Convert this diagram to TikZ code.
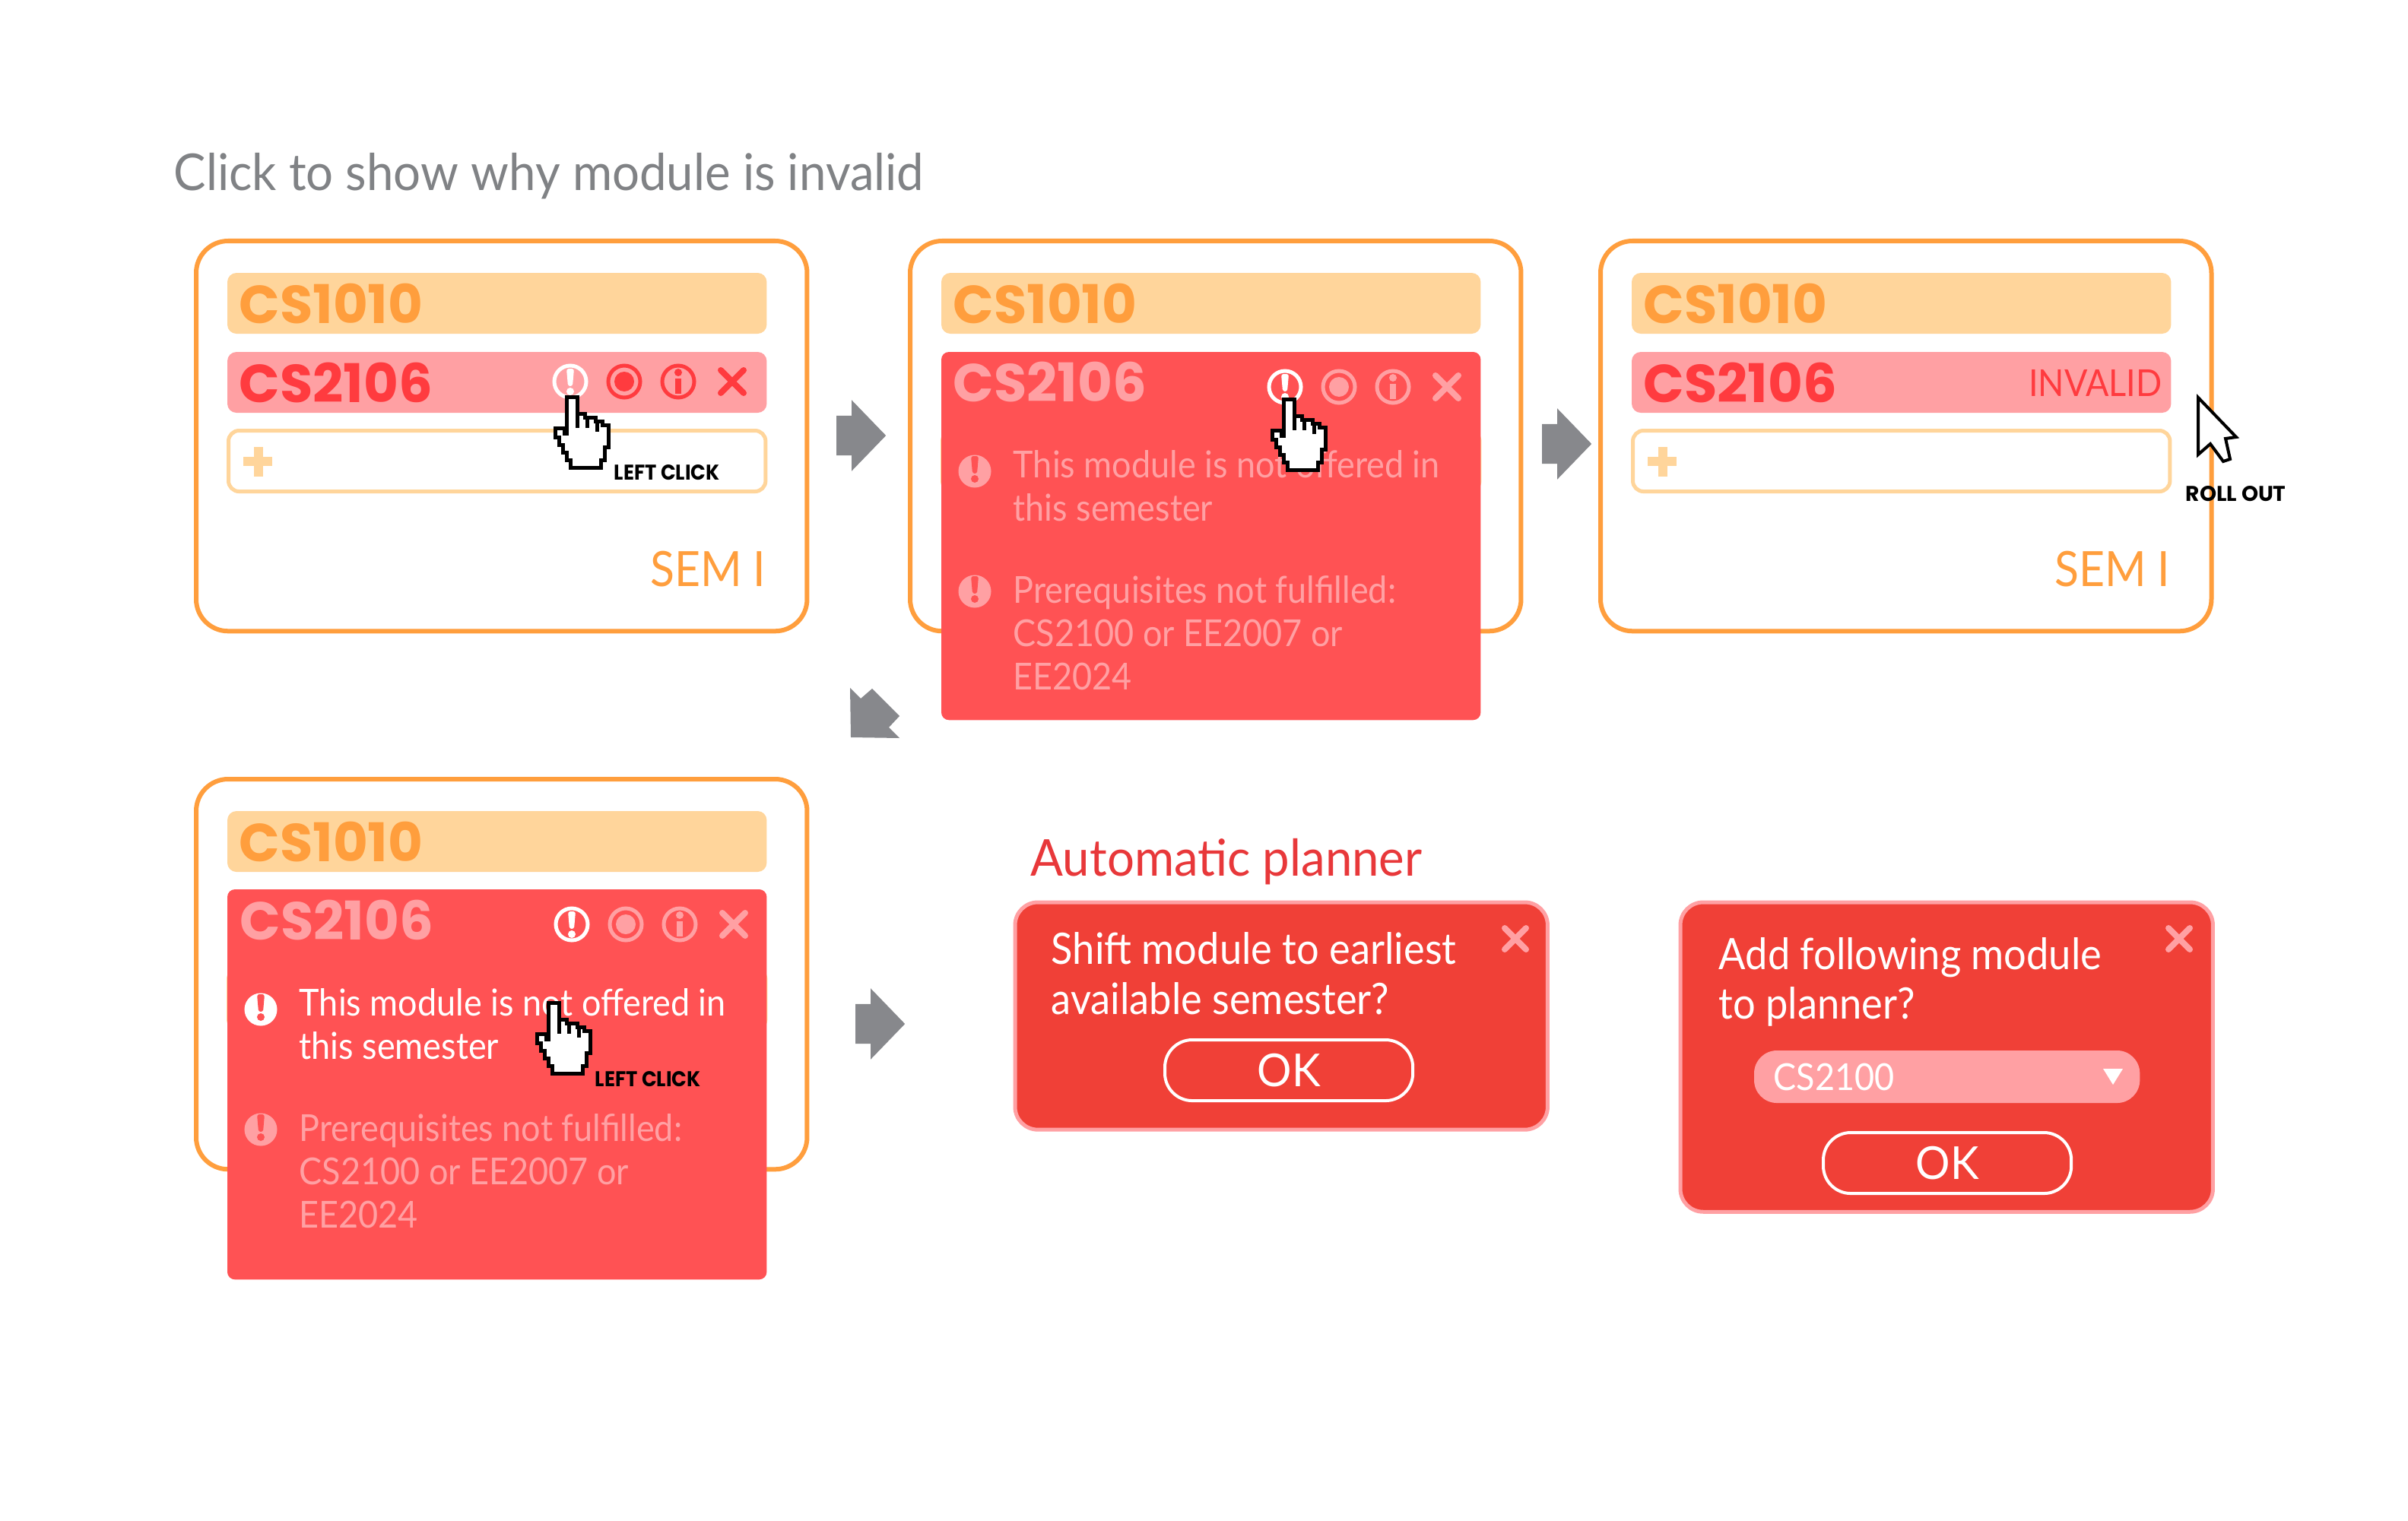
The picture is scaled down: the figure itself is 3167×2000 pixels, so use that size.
\documentclass[tikz,border=0pt]{standalone}
\usepackage{fontspec}
\usetikzlibrary{shapes.arrows}
\newfontfamily\lightfont{Lato}[FakeStretch=0.92]
\newfontfamily\headfont{Lato}[FakeStretch=0.95]
\newfontfamily\boldfont{Poppins Bold}[FakeStretch=1.0]
\newfontfamily\tagfont{Poppins Bold}[FakeStretch=0.92]
\newfontfamily\rollfont{Poppins Bold}[FakeStretch=1.0]
\newcommand{\fsz}[1]{\fontsize{#1}{#1}\selectfont}
\definecolor{cardorange}{HTML}{FF9E3D}
\definecolor{barorange}{HTML}{FFD59B}
\definecolor{badred}{HTML}{FF3B3F}
\definecolor{barpink}{HTML}{FFA0A3}
\definecolor{panelred}{HTML}{FF5254}
\definecolor{dialogred}{HTML}{F04037}
\definecolor{titlegray}{HTML}{808285}
\definecolor{arrowgray}{HTML}{87888C}
\definecolor{plannerred}{HTML}{E8383A}
\tikzset{
  boxbase/.style={rectangle,anchor=north west,inner sep=0pt,outer sep=0pt},
  cardbox/.style={boxbase,draw=cardorange,line width=.06cm,rounded corners=.42cm,
    minimum width=8.03cm,minimum height=5.13cm},
  okbar/.style={boxbase,fill=barorange,rounded corners=.12cm,minimum width=7.09cm,minimum height=.8cm},
  badbar/.style={boxbase,fill=barpink,rounded corners=.12cm,minimum width=7.09cm,minimum height=.8cm},
  addbar/.style={boxbase,draw=barorange,fill=white,line width=.05cm,rounded corners=.14cm,
    minimum width=7.06cm,minimum height=.8cm},
  panelbox/.style={boxbase,fill=panelred,rounded corners=.1cm,minimum width=7.09cm},
  dialogbox/.style={boxbase,fill=dialogred,draw=barpink,line width=.05cm,rounded corners=.3cm,
    minimum width=7cm},
  okbutton/.style={boxbase,draw=white,line width=.04cm,rounded corners=.36cm,
    minimum width=3.26cm,minimum height=.8cm},
  modlabel/.style={anchor=base west,inner sep=0pt,font=\boldfont\fsz{20}},
  semlabel/.style={anchor=base east,inner sep=0pt,text=cardorange,font=\lightfont\fsz{18.2}},
  notelabel/.style={anchor=base west,inner sep=0pt,font=\lightfont\fsz{13.9}},
  dialoglabel/.style={anchor=base west,inner sep=0pt,text=white,font=\lightfont\fsz{16.2}},
  headlabel/.style={anchor=base west,inner sep=0pt,font=\headfont\fsz{19}},
  clicklabel/.style={anchor=base west,inner sep=0pt,text=black,font=\tagfont\fsz{8}},
  oklabel/.style={inner sep=0pt,text=white,font=\headfont\fsz{17}},
  iconring/.style={circle,draw,line width=.05cm,inner sep=0pt,minimum size=.42cm},
  notedisc/.style={circle,inner sep=0pt,minimum size=.43cm},
  flowarrow/.style={single arrow,fill=arrowgray,inner xsep=0pt,inner ysep=.255cm,minimum height=.65cm,
    single arrow head extend=.205cm,single arrow tip angle=92,anchor=center},
  handcursor/.pic={
    \draw[black,fill=white,line width=.05cm,miter limit=4]
      (-7,2) -- (7,2) -- (7,24) -- (17,24) -- (17,29) -- (31,29) -- (31,34) -- (40,34)
      -- (40,39) -- (48,39) -- (48,68) -- (43,68) -- (43,85) -- (38,85) -- (38,95)
      -- (-2,95) -- (-2,85) -- (-7,85) -- (-7,75) -- (-12,75) -- (-12,65) -- (-17,65)
      -- (-17,55) -- (-22,55) -- (-22,43) -- (-10,43) -- (-10,50) -- (-7,50) -- cycle;
    \draw[black,line width=.05cm] (7,24) -- (7,43) (20,29) -- (20,43) (33,34) -- (33,48);
  },
  pointercursor/.pic={
    \draw[black,fill=white,line width=.04cm]
      (0,0) -- (50,52) -- (36,54) -- (42,81) -- (33,84) -- (16,61) -- (0,75) -- cycle;
  }
}
% warning mark: name, x, y, colour
\newcommand{\alertmark}[4]{
  \fill[#4,rounded corners=.03cm] (#2-5,#3-17) -- (#2+5,#3-17) -- (#2+3,#3+6) -- (#2-3,#3+6) -- cycle;
  \fill[#4] (#2,#3+13) circle (5);
}
% icons on the module row: prefix, x of first, y, colour of first, colour of rest
\newcommand{\iconrow}[5]{
  \node[iconring,draw=#4] (#1alert) at (#2,#3) {};
  \alertmark{#1alert}{#2}{#3}{#4}
  \node[iconring,draw=#5] (#1target) at (#2+71,#3) {};
  \fill[#5] (#1target) circle (13);
  \node[iconring,draw=#5] (#1info) at (#2+142,#3) {};
  \fill[#5] (#2+142,#3-12) circle (5);
  \draw[#5,line width=.08cm] (#2+142,#3-4) -- (#2+142,#3+16);
  \draw[#5,line width=.08cm,line cap=round] (#2+213-15,#3-15) -- (#2+213+15,#3+15)
    (#2+213-15,#3+15) -- (#2+213+15,#3-15);
}
% card with its module rows: name, x, y
\newcommand{\cardbase}[3]{
  \node[cardbox] (#1) at (#2+2,#3+1) {};
  \node[okbar] (#1ok) at (#2+43,#3+43) {};
  \node[modlabel,text=cardorange] (#1oktext) at (#2+58,#3+109) {CS1010};
}
\newcommand{\cardlower}[3]{
  \node[addbar] (#1add) at (#2+44.5,#3+250.5) {};
  \draw[barorange,line width=.12cm] (#2+64,#3+291) -- (#2+102,#3+291)
    (#2+84,#3+272) -- (#2+84,#3+311);
}
% notes in the red panel: prefix, x of the mark, first baseline, colour 1, colour 2
\newcommand{\panelnotes}[5]{
  \node[notedisc,fill=#4] (#1one) at (#2,#3-8) {};
  \alertmark{#1one}{#2}{#3-11}{panelred}
  \node[notelabel,text=#4] (#1onea) at (#2+50,#3) {This module is not offered in};
  \node[notelabel,text=#4] (#1oneb) at (#2+50,#3+57) {this semester};
  \node[notedisc,fill=#5] (#1two) at (#2,#3+150) {};
  \alertmark{#1two}{#2}{#3+147}{panelred}
  \node[notelabel,text=#5] (#1twoa) at (#2+50,#3+165) {Prerequisites not fulfilled:};
  \node[notelabel,text=#5] (#1twob) at (#2+50,#3+222) {CS2100 or EE2007 or};
  \node[notelabel,text=#5] (#1twoc) at (#2+50,#3+279) {EE2024};
}
% x of a dialog: centre, y
\newcommand{\closemark}[3]{
  \draw[barpink,line width=.08cm,line cap=round] (#2-14,#3-14) -- (#2+14,#3+14)
    (#2-14,#3+14) -- (#2+14,#3-14);
  \coordinate (#1) at (#2,#3);
}
\begin{document}
\begin{tikzpicture}[x=0.01cm,y=-0.01cm]
\useasboundingbox (0,0) rectangle (3167,2000);
\fill[white] (0,0) rectangle (3167,2000);
%% heading
\node[headlabel,text=titlegray] (title) at (228,250) {Click to show why module is invalid};
%% first card
\cardbase{cardone}{256}{316}
\node[badbar] (cardonebad) at (299,463) {};
\node[modlabel,text=badred] (cardonebadtext) at (314,529) {CS2106};
\cardlower{cardone}{256}{316}
\node[semlabel] (cardonesem) at (1008,771) {SEM I};
\iconrow{cardone}{750}{502}{white}{badred}
\pic (handone) at (752,520) {handcursor};
\node[clicklabel] (clickone) at (807,631) {LEFT CLICK};
%% second card
\cardbase{cardtwo}{1195}{316}
\cardlower{cardtwo}{1195}{316}
\node[panelbox,minimum height=4.84cm] (paneltwo) at (1238,463) {};
\node[modlabel,text=barpink] (cardtwobadtext) at (1253,528) {CS2106};
\iconrow{cardtwo}{1690}{509}{white}{barpink}
\panelnotes{notetwo}{1282}{628}{barpink}{barpink}
\pic (handtwo) at (1695,523) {handcursor};
%% third card
\cardbase{cardthree}{2103}{316}
\node[badbar] (cardthreebad) at (2146,463) {};
\node[modlabel,text=badred] (cardthreebadtext) at (2161,529) {CS2106};
\node[anchor=base east,inner sep=0pt,text=badred,font=\lightfont\fsz{13.9}] (invalid) at (2844,521) {INVALID};
\cardlower{cardthree}{2103}{316}
\node[semlabel] (cardthreesem) at (2855,771) {SEM I};
\pic (pointer) at (2891,523) {pointercursor};
\node[anchor=base west,inner sep=0pt,text=black,font=\rollfont\fsz{8}] (rollout) at (2874,659) {ROLL OUT};
%% fourth card
\cardbase{cardfour}{256}{1024}
\cardlower{cardfour}{256}{1024}
\node[panelbox,minimum height=5.13cm] (panelfour) at (299,1170) {};
\node[modlabel,text=barpink] (cardfourbadtext) at (315,1236) {CS2106};
\iconrow{cardfour}{752}{1216}{white}{barpink}
\panelnotes{notefour}{343}{1336}{white}{barpink}
\pic (handfour) at (728,1317) {handcursor};
\node[clicklabel] (clickfour) at (782,1429) {LEFT CLICK};
%% arrows between the states
\node[flowarrow] (flowone) at (1120,573) {};
\node[flowarrow] (flowtwo) at (2048,584) {};
\node[flowarrow] (flowfour) at (1145,1347) {};
\fill[arrowgray] (1118,905) -- (1132,919) -- (1147,906) -- (1183,942) -- (1169,957)
  -- (1183,971) -- (1119,970) -- cycle;
%% automatic planner
\node[headlabel,text=plannerred] (planner) at (1355,1152) {Automatic planner};
\node[dialogbox,minimum height=2.99cm] (dialogone) at (1335,1187) {};
\node[dialoglabel] (shifta) at (1382,1268) {Shift module to earliest};
\node[dialoglabel] (shiftb) at (1382,1334) {available semester?};
\closemark{closeone}{1993}{1235}
\node[okbutton] (okone) at (1532,1368) {};
\node[oklabel] at (okone.center) {OK};
\node[dialogbox,minimum height=4.07cm] (dialogtwo) at (2210,1187) {};
\node[dialoglabel] (adda) at (2260,1275) {Add following module};
\node[dialoglabel] (addb) at (2260,1340) {to planner?};
\closemark{closetwo}{2866}{1235}
\node[boxbase,fill=barpink,rounded corners=.3cm,minimum width=5.07cm,minimum height=.69cm] (picker) at (2307,1382) {};
\node[anchor=base west,inner sep=0pt,text=white,font=\lightfont\fsz{13.9}] (pickertext) at (2332,1434) {CS2100};
\fill[white] (2766,1406) -- (2792,1406) -- (2779,1427) -- cycle;
\node[okbutton] (oktwo) at (2398,1490) {};
\node[oklabel] at (oktwo.center) {OK};
\end{tikzpicture}
\end{document}
